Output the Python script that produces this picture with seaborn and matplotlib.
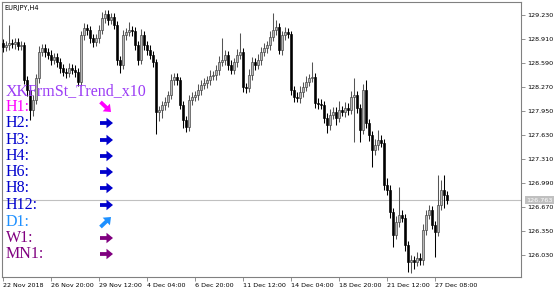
import numpy as np
import pandas as pd
import matplotlib
matplotlib.use("Agg")
import matplotlib.pyplot as plt
from matplotlib.patches import FancyArrow
from matplotlib.transforms import IdentityTransform
import seaborn as sns

# ---------------- data (EURJPY H4) ----------------
first_open = 128.85
closes = [
    128.803, 128.830, 128.857, 128.843, 128.870, 128.817, 128.830, 128.363, 128.230, 127.963,
    128.097, 128.390, 128.737, 128.790, 128.737, 128.697, 128.630, 128.670, 128.603, 128.523,
    128.470, 128.457, 128.523, 128.497, 128.470, 128.337, 128.963, 129.057, 129.030, 128.923,
    128.870, 128.923, 129.030, 129.190, 129.243, 129.163, 129.203, 129.097, 128.630, 128.563,
    128.963, 129.003, 129.030, 129.017, 128.830, 128.630, 128.963, 128.830, 128.763, 128.697,
    128.603, 127.937, 127.963, 128.030, 128.070, 128.163, 128.363, 128.403, 128.363, 128.030,
    127.830, 127.737, 128.097, 128.137, 128.163, 128.230, 128.297, 128.323, 128.363, 128.417,
    128.430, 128.497, 128.603, 128.630, 128.697, 128.563, 128.497, 128.603, 128.697, 128.737,
    128.270, 128.257, 128.430, 128.603, 128.563, 128.630, 128.737, 128.790, 128.830, 128.937,
    129.030, 129.070, 128.763, 128.963, 129.003, 128.977, 128.230, 128.137, 128.123, 128.203,
    128.270, 128.337, 128.390, 128.403, 128.057, 128.043, 128.030, 127.857, 127.763, 127.897,
    127.937, 127.857, 127.963, 127.937, 127.990, 127.963, 128.137, 128.163, 127.990, 127.697,
    128.230, 127.790, 127.630, 127.430, 127.497, 127.563, 127.523, 126.963, 126.897, 126.603,
    126.297, 126.470, 126.563, 126.523, 126.163, 125.937, 125.963, 125.937, 125.990, 125.963,
    126.363, 126.563, 126.630, 126.430, 126.337, 126.697, 126.897, 126.830, 126.763]
wick_up = [
    0.06, 0.05, 0.24, 0.05, 0.06, 0.05, 0.05, 0.04, 0.05, 0.06,
    0.06, 0.05, 0.08, 0.05, 0.06, 0.05, 0.07, 0.05, 0.06, 0.05,
    0.06, 0.05, 0.07, 0.05, 0.06, 0.05, 0.06, 0.07, 0.05, 0.06,
    0.05, 0.06, 0.07, 0.08, 0.05, 0.06, 0.05, 0.06, 0.05, 0.06,
    0.07, 0.05, 0.11, 0.06, 0.05, 0.06, 0.08, 0.05, 0.06, 0.07,
    0.05, 0.04, 0.06, 0.05, 0.07, 0.06, 0.08, 0.06, 0.05, 0.04,
    0.06, 0.05, 0.06, 0.07, 0.05, 0.08, 0.06, 0.07, 0.05, 0.08,
    0.06, 0.07, 0.08, 0.29, 0.06, 0.05, 0.07, 0.06, 0.08, 0.25,
    0.05, 0.06, 0.08, 0.07, 0.06, 0.08, 0.06, 0.07, 0.06, 0.08,
    0.23, 0.10, 0.05, 0.06, 0.07, 0.05, 0.04, 0.06, 0.07, 0.08,
    0.07, 0.08, 0.06, 0.20, 0.05, 0.06, 0.07, 0.05, 0.06, 0.08,
    0.06, 0.07, 0.12, 0.06, 0.08, 0.07, 0.08, 0.23, 0.05, 0.06,
    0.08, 0.13, 0.06, 0.05, 0.08, 0.14, 0.07, 0.05, 0.10, 0.06,
    0.05, 0.08, 0.37, 0.07, 0.05, 0.06, 0.07, 0.06, 0.08, 0.07,
    0.08, 0.07, 0.07, 0.06, 0.05, 0.40, 0.13, 0.20, 0.05]
wick_dn = [
    0.06, 0.05, 0.07, 0.05, 0.06, 0.05, 0.06, 0.05, 0.08, 0.13,
    0.08, 0.05, 0.06, 0.05, 0.07, 0.05, 0.06, 0.05, 0.07, 0.06,
    0.05, 0.07, 0.06, 0.05, 0.07, 0.06, 0.05, 0.06, 0.07, 0.06,
    0.07, 0.05, 0.06, 0.05, 0.07, 0.06, 0.05, 0.06, 0.07, 0.11,
    0.05, 0.06, 0.05, 0.07, 0.06, 0.06, 0.05, 0.07, 0.06, 0.05,
    0.06, 0.30, 0.12, 0.10, 0.06, 0.07, 0.05, 0.06, 0.07, 0.05,
    0.10, 0.07, 0.06, 0.07, 0.05, 0.06, 0.07, 0.05, 0.06, 0.07,
    0.05, 0.06, 0.07, 0.05, 0.06, 0.07, 0.05, 0.06, 0.07, 0.05,
    0.06, 0.07, 0.05, 0.06, 0.07, 0.05, 0.06, 0.05, 0.07, 0.06,
    0.05, 0.06, 0.05, 0.07, 0.06, 0.05, 0.06, 0.07, 0.05, 0.06,
    0.07, 0.05, 0.06, 0.05, 0.07, 0.06, 0.05, 0.07, 0.10, 0.06,
    0.05, 0.10, 0.06, 0.05, 0.07, 0.06, 0.05, 0.60, 0.06, 0.16,
    0.06, 0.07, 0.08, 0.23, 0.06, 0.07, 0.05, 0.06, 0.07, 0.08,
    0.16, 0.06, 0.07, 0.05, 0.08, 0.13, 0.15, 0.10, 0.06, 0.07,
    0.06, 0.07, 0.05, 0.06, 0.33, 0.06, 0.07, 0.17, 0.05]

last_price = 126.763
price_ticks = [129.230, 128.910, 128.590, 128.270, 127.950, 127.630,
               127.310, 126.990, 126.670, 126.350, 126.030]
time_labels = ["22 Nov 2018", "26 Nov 20:00", "29 Nov 12:00", "4 Dec 04:00",
               "6 Dec 20:00", "11 Dec 12:00", "14 Dec 04:00", "18 Dec 20:00",
               "21 Dec 12:00", "27 Dec 08:00"]
time_label_bars = [0, 16, 32, 48, 64, 80, 96, 112, 128, 144]

indicator_title = "XKFrmSt_Trend_x10"
tf_labels = ["H1:", "H2:", "H3:", "H4:", "H6:", "H8:", "H12:", "D1:", "W1:", "MN1:"]
tf_direction = ["down", "flat", "flat", "flat", "flat", "flat", "flat",
                "up", "flat", "flat"]
tf_colors = ["#ff00ff", "#0000cd", "#0000cd", "#0000cd", "#0000cd", "#0000cd",
             "#0000cd", "#1e90ff", "#800080", "#800080"]

# ---------------- build frame ----------------
df = pd.DataFrame({"close": closes, "up": wick_up, "dn": wick_dn})
df["open"] = [first_open] + closes[:-1]
df["bar"] = np.arange(len(df))
df["high"] = df[["open", "close"]].max(axis=1) + df["up"]
df["low"] = df[["open", "close"]].min(axis=1) - df["dn"]
df["bull"] = df["close"] >= df["open"]

sns.set_theme(style="white")
plt.rcParams["font.family"] = ["DejaVu Sans"]

W, H = 560, 294
fig = plt.figure(figsize=(W / 100, H / 100), dpi=100)
fig.patch.set_facecolor("white")
ax = fig.add_axes([2 / W, 17 / H, 519 / W, 275 / H])
ax.set_facecolor("white")

# wicks
for is_bull, col in [(True, "#555555"), (False, "#000000")]:
    d = df[df["bull"] == is_bull]
    ax.vlines(d["bar"], d["low"], d["high"], color=col, lw=0.75, zorder=2)
# bodies
bodies = (df["close"] - df["open"]).abs().clip(lower=0.012)
bottoms = df[["open", "close"]].min(axis=1)
bm = df["bull"]
ax.bar(df["bar"][bm], bodies[bm], bottom=bottoms[bm], width=0.62,
       color="#b8b8b8", edgecolor="#3a3a3a", linewidth=0.45, zorder=3)
ax.bar(df["bar"][~bm], bodies[~bm], bottom=bottoms[~bm], width=0.62,
       color="#000000", edgecolor="#000000", linewidth=0.45, zorder=3)

# current price line
ax.axhline(last_price, color="#c0c0c0", lw=0.8, zorder=1)

ax.set_xlim(-1 / 3, -1 / 3 + 519 / 3)
ax.set_ylim(129.23 - 262 / 75, 129.23 + 13 / 75)

ax.yaxis.tick_right()
ax.set_yticks(price_ticks)
ax.set_yticklabels([f"{v:.3f}" for v in price_ticks])
ax.set_xticks(time_label_bars)
ax.set_xticklabels(time_labels, ha="left")
ax.tick_params(axis="both", direction="out", length=3, width=0.6,
               colors="#000000", labelsize=4.6, pad=1.5)
ax.tick_params(axis="y", right=True, left=False, color="#808080", pad=1.8)
ax.tick_params(axis="x", bottom=True, color="#808080", pad=1.5)
for s in ax.spines.values():
    s.set_color("#808080")
    s.set_linewidth(0.8)
    s.set_visible(True)
ax.grid(False)

ax.annotate(f"{last_price:.3f}", xy=(1, last_price), xycoords=("axes fraction", "data"),
            xytext=(3.5, 0), textcoords="offset points", va="center", ha="left",
            fontsize=4.6, color="white",
            bbox=dict(boxstyle="square,pad=0.2", fc="#c0c0c0", ec="none"),
            annotation_clip=False, zorder=5)

# symbol caption
fig.text(4 / W, 1 - 8 / H, "EURJPY,H4", fontsize=4.8, color="#000000", va="center", ha="left")

# indicator panel
fig.text(6 / W, 1 - 91 / H, indicator_title, fontsize=11.5, color="#9b3cf5",
         family=["Liberation Serif", "DejaVu Serif"], va="center", ha="left")
row_y = [107, 123, 140, 156, 172, 188, 205, 222, 238, 254]
for lab, dirn, col, y in zip(tf_labels, tf_direction, tf_colors, row_y):
    fig.text(6 / W, 1 - y / H, lab, fontsize=11.5, color=col,
             family=["Liberation Serif", "DejaVu Serif"], va="center", ha="left")
    yd = H - y
    if dirn == "flat":
        x0, y0, dx, dy = 100.0, yd, 13.0, 0.0
    elif dirn == "down":
        x0, y0, dx, dy = 100.5, yd + 5.0, 10.5, -10.0
    else:
        x0, y0, dx, dy = 100.5, yd - 5.0, 10.5, 10.0
    arr = FancyArrow(x0, y0, dx, dy, width=3.8, head_width=10.5, head_length=6.5,
                     length_includes_head=True, color=col, lw=0,
                     transform=IdentityTransform())
    fig.add_artist(arr)

fig.savefig("out.png", dpi=100, facecolor="white")
